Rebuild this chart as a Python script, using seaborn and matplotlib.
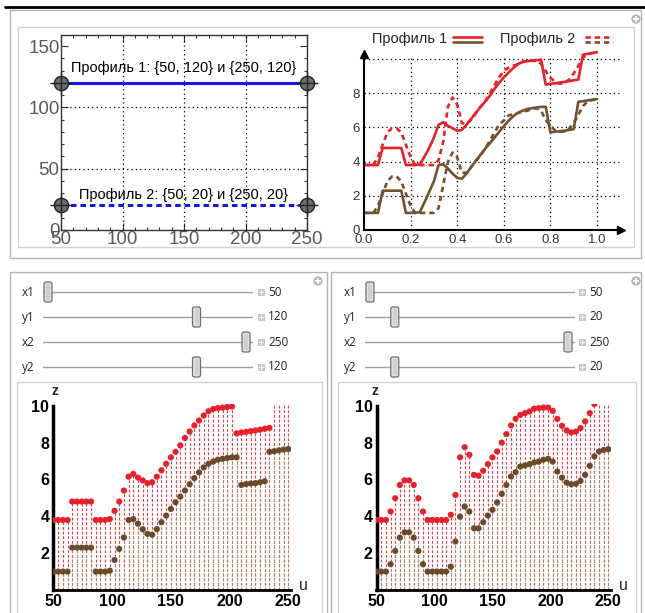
import numpy as np
import matplotlib
matplotlib.use("Agg")
import matplotlib.pyplot as plt
import seaborn as sns
from matplotlib.patches import Rectangle, FancyBboxPatch
from matplotlib.ticker import MultipleLocator, FormatStrFormatter

# ---------------- data ----------------
ends_x = [50, 250]
prof1_y = [120, 120]
prof2_y = [20, 20]

u = np.arange(50, 251, 4)           # 51 samples along the profile
t = (u - 50) / 200.0

p1_upper = [3.8, 3.8, 3.8, 3.8, 4.8, 4.8, 4.8, 4.8, 4.8, 3.8, 3.8, 3.8, 3.85,
            4.3, 4.8, 5.4, 6.15, 6.3, 6.1, 5.95, 5.8, 5.85, 6.15, 6.5, 6.85, 7.2,
            7.5, 7.85, 8.25, 8.6, 8.93, 9.2, 9.47, 9.7, 9.82, 9.87, 9.9, 9.93, 9.96,
            8.5, 8.55, 8.58, 8.62, 8.66, 8.7, 8.75, 8.8, 10.25, 10.3, 10.35, 10.4]
p1_lower = [1.0, 1.0, 1.0, 1.0, 2.3, 2.3, 2.3, 2.3, 2.3, 1.0, 1.0, 1.0, 1.05,
            1.63, 2.23, 2.85, 3.8, 3.85, 3.6, 3.3, 3.05, 3.0, 3.3, 3.68, 4.04, 4.4,
            4.76, 5.07, 5.4, 5.74, 6.07, 6.38, 6.65, 6.85, 6.97, 7.07, 7.12, 7.16, 7.2,
            7.2, 5.7, 5.75, 5.78, 5.8, 5.85, 5.9, 7.5, 7.53, 7.58, 7.62, 7.65]
p2_upper = [3.8, 3.8, 3.8, 4.26, 4.98, 5.7, 5.95, 5.95, 5.7, 4.98, 4.26, 3.8, 3.8,
            3.8, 3.8, 3.8, 4.08, 5.16, 7.2, 7.75, 7.34, 6.25, 6.2, 6.47, 6.83, 7.2,
            7.52, 8.0, 8.46, 8.93, 9.29, 9.5, 9.6, 9.69, 9.84, 9.87, 9.9, 9.9, 9.72,
            9.29, 8.91, 8.66, 8.55, 8.6, 8.79, 9.15, 9.6, 10.09, 10.25, 10.35, 10.4]
p2_lower = [1.0, 1.0, 1.0, 1.4, 2.12, 2.84, 3.13, 3.13, 2.84, 2.12, 1.4, 1.0, 1.0,
            1.0, 1.0, 1.0, 1.27, 2.63, 3.98, 4.53, 4.26, 3.35, 3.35, 3.68, 4.04, 4.35,
            4.75, 5.22, 5.7, 6.16, 6.4, 6.7, 6.76, 6.83, 6.92, 6.97, 7.07, 7.12, 6.97,
            6.43, 6.1, 5.83, 5.74, 5.76, 5.92, 6.25, 6.74, 7.25, 7.52, 7.6, 7.64]

slider_names = ["x1", "y1", "x2", "y2"]
slider_vals_1 = [50, 120, 250, 120]
slider_vals_2 = [50, 20, 250, 20]
slider_ranges = [(50, 250), (0, 160), (50, 250), (0, 160)]

label1 = "Профиль 1: {50, 120} и {250, 120}"
label2 = "Профиль 2: {50, 20} и {250, 20}"

# ---------------- style ----------------
sns.set_theme(style="white")
plt.rcParams['font.family'] = ['Liberation Sans', 'DejaVu Sans']
plt.rcParams['axes.unicode_minus'] = False

RED = '#e8202a'
BROWN = '#74502e'
BLUE = '#1414ee'
DASH = (0, (2.0, 1.5))
DOT = (0, (1, 2.5))

W, H = 645, 613
fig = plt.figure(figsize=(6.45, 6.13), dpi=100)


def frac(x0, y0, x1, y1):
    return [x0 / W, 1 - y1 / H, (x1 - x0) / W, (y1 - y0) / H]


bg = fig.add_axes([0, 0, 1, 1])
bg.set_xlim(0, W)
bg.set_ylim(H, 0)
bg.axis('off')

# top rule
bg.plot([5, 645], [7, 7], color='black', lw=2)

# panels
def box(x0, y0, x1, y1, ec, lw=1.0):
    bg.add_patch(Rectangle((x0, y0), x1 - x0, y1 - y0, fill=False, ec=ec, lw=lw))

box(10, 10, 641, 258, '#b4b4b4')
box(18, 27, 634, 247, '#d2d2d2')
box(10, 272, 327, 640, '#b4b4b4')
box(17, 382, 322, 640, '#d2d2d2')
box(331, 272, 641, 640, '#b4b4b4')
box(338, 382, 636, 640, '#d2d2d2')

def plus_icon(x, y):
    bg.scatter([x], [y], s=45, color='#b8b8b8', edgecolors='none', zorder=4)
    bg.scatter([x], [y], s=18, marker='+', color='white', linewidths=1.2, zorder=5)

plus_icon(636, 19)
plus_icon(318, 281)
plus_icon(636, 281)

# ---------------- top-left: profile lines ----------------
ax1 = fig.add_axes(frac(61, 35, 307, 230))
ax1.set_facecolor('none')
for xv in [100, 150, 200]:
    ax1.axvline(xv, color='black', lw=0.9, ls=DOT, zorder=1)
for yv in [50, 100]:
    ax1.axhline(yv, color='black', lw=0.9, ls=DOT, zorder=1)
sns.lineplot(x=ends_x, y=prof1_y, ax=ax1, color=BLUE, lw=2.2, errorbar=None)
sns.lineplot(x=ends_x, y=prof2_y, ax=ax1, color=BLUE, lw=2.2, linestyle=(0, (1.8, 1.3)),
             errorbar=None)
lx = ends_x + ends_x
ly = [prof1_y[0], prof1_y[1], prof2_y[0], prof2_y[1]]
ax1.scatter(lx, ly, s=105, color='#6a6a78', edgecolors='#222222', linewidths=1.0,
            zorder=6, clip_on=False)
ax1.scatter(lx, ly, s=250, marker='+', color='#222222', linewidths=1.0, zorder=7,
            clip_on=False)
ax1.text(150, 132, label1, ha='center', va='center', fontsize=10.5, color='black')
ax1.text(150, 28.5, label2, ha='center', va='center', fontsize=10.5, color='black')
ax1.set_xlim(50, 250)
ax1.set_ylim(0, 159)
ax1.set_xticks([50, 100, 150, 200, 250])
ax1.set_yticks([0, 50, 100, 150])
ax1.xaxis.set_minor_locator(MultipleLocator(10))
ax1.yaxis.set_minor_locator(MultipleLocator(10))
ax1.tick_params(which='both', direction='in', top=True, right=True, bottom=True, left=True,
                color='#333333', width=0.8)
ax1.tick_params(which='major', length=5, labelsize=13.5, labelcolor='#5a5a5a', pad=1)
ax1.tick_params(which='minor', length=2.5)
for sp in ax1.spines.values():
    sp.set_color('#333333')
    sp.set_linewidth(1.0)
ax1.set_xlabel('')
ax1.set_ylabel('')

# ---------------- top-right: height profiles ----------------
ax2 = fig.add_axes(frac(355, 50, 625, 240))
ax2.set_facecolor('none')
for xv in [0.2, 0.4, 0.6, 0.8, 1.0]:
    ax2.plot([xv, xv], [0, 10.2], color='black', lw=0.9, ls=DOT, zorder=1)
for yv in [2, 4, 6, 8, 10]:
    ax2.plot([0, 1.1], [yv, yv], color='black', lw=0.9, ls=DOT, zorder=1)
sns.lineplot(x=t, y=p1_lower, ax=ax2, color=BROWN, lw=1.9, errorbar=None)
sns.lineplot(x=t, y=p1_upper, ax=ax2, color=RED, lw=1.9, errorbar=None)
sns.lineplot(x=t, y=p2_lower, ax=ax2, color=BROWN, lw=1.9, linestyle=DASH, errorbar=None)
sns.lineplot(x=t, y=p2_upper, ax=ax2, color=RED, lw=1.9, linestyle=DASH, errorbar=None)
ax2.set_xlim(-0.0386, 1.1202)
ax2.set_ylim(-0.585, 10.526)
for s in ['top', 'right']:
    ax2.spines[s].set_visible(False)
ax2.spines['left'].set_position(('data', 0))
ax2.spines['bottom'].set_position(('data', 0))
ax2.spines['left'].set_bounds(0, 10.3)
ax2.spines['bottom'].set_bounds(0, 1.1)
for s in ['left', 'bottom']:
    ax2.spines[s].set_color('black')
    ax2.spines[s].set_linewidth(1.5)
ax2.plot([1.105], [0], marker='>', ms=6, color='black', clip_on=False)
ax2.plot([0], [10.32], marker='^', ms=6, color='black', clip_on=False)
ax2.set_xticks([0, 0.2, 0.4, 0.6, 0.8, 1.0])
ax2.set_yticks([0, 2, 4, 6, 8])
ax2.xaxis.set_major_formatter(FormatStrFormatter('%.1f'))
ax2.xaxis.set_minor_locator(MultipleLocator(0.05))
ax2.yaxis.set_minor_locator(MultipleLocator(0.5))
ax2.tick_params(which='both', direction='in', color='black', width=0.8)
ax2.tick_params(which='major', length=4, labelsize=9.5, labelcolor='#333333', pad=3)
ax2.tick_params(which='minor', length=2)
ax2.set_xlabel('')
ax2.set_ylabel('')

# legend for the profiles
bg.text(372, 39, "Профиль 1", fontsize=10.5, va='center', ha='left', color='#222222')
bg.plot([453, 482], [37, 37], color=RED, lw=1.9)
bg.plot([453, 482], [41.5, 41.5], color=BROWN, lw=1.9)
bg.text(500, 39, "Профиль 2", fontsize=10.5, va='center', ha='left', color='#222222')
bg.plot([585, 613], [37, 37], color=RED, lw=1.9, ls=DASH)
bg.plot([585, 613], [41.5, 41.5], color=BROWN, lw=1.9, ls=DASH)

# ---------------- sliders ----------------
def sliders(x_lab, t0, t1, icon_x, vals):
    for k, (nm, v, (lo, hi)) in enumerate(zip(slider_names, vals, slider_ranges)):
        yy = 292 + 25 * k
        bg.text(x_lab, yy, nm, fontsize=8.5, va='center', ha='left', color='#222222',
                family=['Open Sans', 'DejaVu Sans'])
        bg.plot([t0 - 5, t1 + 6], [yy, yy], color='#a0a0a0', lw=1.0, zorder=2)
        tx = t0 + (v - lo) / (hi - lo) * (t1 - t0)
        bg.add_patch(FancyBboxPatch((tx - 4, yy - 10), 8, 20,
                                    boxstyle='round,pad=0,rounding_size=2',
                                    fc='#e2e2e2', ec='#6e6e6e', lw=0.9, zorder=3))
        bg.add_patch(Rectangle((tx - 2, yy - 8), 4, 16, fc='#d0d0d0', ec='none', zorder=3.5))
        bg.add_patch(Rectangle((icon_x - 3.5, yy - 3.5), 7, 7, fc='#c6c6c6', ec='none', zorder=3))
        bg.plot([icon_x - 2, icon_x + 2], [yy, yy], color='white', lw=0.8, zorder=4)
        bg.plot([icon_x, icon_x], [yy - 2, yy + 2], color='white', lw=0.8, zorder=4)
        bg.text(icon_x + 7, yy, str(v), fontsize=8.5, va='center', ha='left', color='#222222',
                family=['Open Sans', 'DejaVu Sans'])

sliders(22, 48, 246, 261, slider_vals_1)
sliders(344, 370, 568, 582, slider_vals_2)

# ---------------- bottom: sampled profiles ----------------
STEM = (0, (2.6, 1.6))

def sample_plot(box_px, upper, lower, z_xy, u_xy):
    ax = fig.add_axes(frac(*box_px))
    ax.set_facecolor('none')
    up = np.minimum(np.array(upper), 10.6)
    ax.vlines(u, 0, up, colors='#e8404a', linestyles=STEM, lw=0.8, zorder=1)
    ax.vlines(u, 0, lower, colors='#a08a6a', linestyles=STEM, lw=0.8, zorder=1.5)
    sns.scatterplot(x=u, y=upper, ax=ax, color=RED, s=20, edgecolor='none', zorder=3)
    sns.scatterplot(x=u, y=lower, ax=ax, color='#6b4a2a', s=20, edgecolor='none', zorder=3)
    ax.set_xlim(49.5, 252)
    ax.set_ylim(0, 10.1)
    for s in ['top', 'right']:
        ax.spines[s].set_visible(False)
    ax.spines['left'].set_position(('data', 50))
    ax.spines['left'].set_bounds(0, 10)
    ax.spines['left'].set_linewidth(2.5)
    ax.spines['bottom'].set_linewidth(2.0)
    for s in ['left', 'bottom']:
        ax.spines[s].set_color('black')
    ax.set_xticks([50, 100, 150, 200, 250])
    ax.set_yticks([2, 4, 6, 8, 10])
    ax.xaxis.set_minor_locator(MultipleLocator(10))
    ax.yaxis.set_minor_locator(MultipleLocator(0.5))
    ax.tick_params(which='both', direction='in', color='black', width=1.0)
    ax.tick_params(which='major', length=5, labelsize=11.5, labelcolor='black', pad=3)
    ax.tick_params(which='minor', length=2.5)
    for lab in ax.get_xticklabels() + ax.get_yticklabels():
        lab.set_fontweight('bold')
    ax.set_xlabel('')
    ax.set_ylabel('')
    bg.text(z_xy[0], z_xy[1], 'z', fontsize=10, fontweight='bold', ha='center', va='center')
    bg.text(u_xy[0], u_xy[1], 'u', fontsize=11.5, ha='center', va='center')
    return ax

sample_plot((52.9, 403.9, 290.6, 590), p1_upper, p1_lower, (55, 391), (303, 585))
sample_plot((376.1, 403.9, 610.6, 590), p2_upper, p2_lower, (375, 391), (623, 585))

fig.savefig("out.png", dpi=100)
